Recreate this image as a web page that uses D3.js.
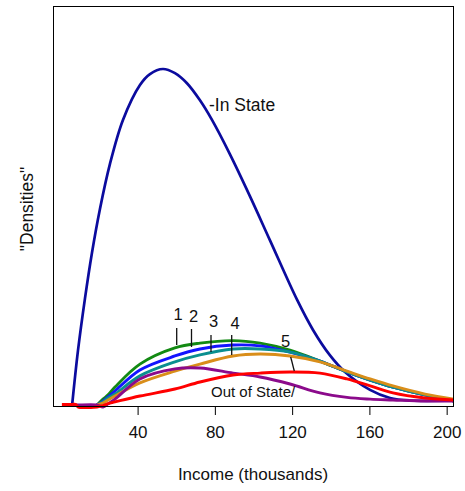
<!DOCTYPE html>
<html>
<head>
<meta charset="utf-8">
<script src="https://cdn.jsdelivr.net/npm/d3@7"></script>
<style>
  html, body { margin: 0; padding: 0; background: #fff; }
  svg { display: block; }
  text { font-family: "Liberation Sans", Arial, Helvetica, sans-serif; fill: #111; }
</style>
</head>
<body>
<svg id="chart" width="465" height="491"></svg>
<script>
// ---- Data (income in thousands, density in arbitrary units) ----
const xTicks = [40, 80, 120, 160, 200];

const inStateIncome  = [6.11, 9.11, 12.74, 16.36, 20.51, 25.69, 32.42, 41.22, 46.4, 53.13, 59.34, 65.56, 72.29, 78.51, 87.83, 98.19, 108.54, 122.53, 130.82, 139.62, 147.38, 160.33, 170.69, 181.05, 203.8];
const inStateDensity = [0, 1.93, 3.80, 5.43, 7.0, 8.61, 10.18, 11.43, 11.82, 12.0, 11.85, 11.49, 10.88, 10.18, 8.95, 7.45, 5.88, 3.76, 2.68, 1.77, 1.18, 0.54, 0.25, 0.16, 0.16];

const incomeGrid = [0.8, 6.0, 8.1, 9.1, 19.0, 22.1, 24.7, 28.3, 41.2, 59.3, 72.3, 89.4, 103.4, 118.9, 134.4, 148.4, 160.4, 172.2, 188.8, 203.8];

const group1Density  = [null, null, null, null, 0, 0.21, 0.36, 0.64, 1.46, 2.04, 2.21, 2.30, 2.21, 1.96, 1.57, 1.18, 0.89, 0.64, 0.36, 0.14];
const group2Density  = [null, null, null, null, 0, 0.14, 0.29, 0.50, 1.25, 1.75, 2.00, 2.14, 2.11, 1.89, 1.57, 1.18, 0.89, 0.64, 0.36, 0.14];
const group3Density  = [null, null, null, null, 0, 0.11, 0.25, 0.39, 1.04, 1.54, 1.79, 2.00, 2.00, 1.89, 1.57, 1.18, 0.89, 0.64, 0.36, 0.14];
const group45Density = [null, null, null, null, 0, 0.07, 0.18, 0.32, 0.79, 1.21, 1.46, 1.75, 1.82, 1.75, 1.54, 1.21, 0.93, 0.68, 0.39, 0.21];
const otherDensity   = [null, 0, 0, 0, 0, -0.07, 0.04, 0.21, 0.93, 1.29, 1.32, 1.14, 1.00, 0.75, 0.43, 0.27, 0.21, 0.18, 0.14, 0.14];
const outStateDensity= [0.02, 0.02, 0.02, -0.07, -0.07, -0.02, 0.05, 0.11, 0.32, 0.57, 0.82, 1.07, 1.14, 1.18, 1.14, 0.93, 0.68, 0.43, 0.25, 0.18];

const seriesNames  = ["In State", "1", "2", "3", "4/5", "other", "Out of State"];
const seriesColors = ["#0b0b9e", "#138a13", "#1414ff", "#0a8f8f", "#d98e1a", "#8b0a8b", "#ff0000"];

// ---- Layout ----
const svg = d3.select("#chart");
const plot = { left: 53, right: 454, top: 6, bottom: 406 };

const x = d3.scaleLinear().domain([-3.8, 203.8]).range([plot.left, plot.right]);
const y = d3.scaleLinear().domain([-0.036, 14.25]).range([plot.bottom, plot.top]);

svg.append("defs").append("clipPath").attr("id", "clip")
  .append("rect")
  .attr("x", plot.left).attr("y", plot.top)
  .attr("width", plot.right - plot.left).attr("height", plot.bottom - plot.top + 3);

const line = d3.line()
  .defined(d => d[1] !== null)
  .x(d => x(d[0])).y(d => y(d[1]))
  .curve(d3.curveCatmullRom.alpha(0.5));

const series = [
  d3.zip(inStateIncome, inStateDensity),
  d3.zip(incomeGrid, group1Density),
  d3.zip(incomeGrid, group2Density),
  d3.zip(incomeGrid, group3Density),
  d3.zip(incomeGrid, group45Density),
  d3.zip(incomeGrid, otherDensity),
  d3.zip(incomeGrid, outStateDensity)
];

const g = svg.append("g").attr("clip-path", "url(#clip)");
series.forEach((s, i) => {
  g.append("path")
    .datum(s)
    .attr("d", line)
    .attr("fill", "none")
    .attr("stroke", seriesColors[i])
    .attr("stroke-width", i === 0 ? 2.7 : 2.9)
    .attr("stroke-linejoin", "round")
    .attr("stroke-linecap", "butt");
});

// ---- Box ----
svg.append("rect")
  .attr("x", plot.left + 0.5).attr("y", plot.top + 0.5)
  .attr("width", plot.right - plot.left - 1).attr("height", plot.bottom - plot.top)
  .attr("fill", "none").attr("stroke", "#000").attr("stroke-width", 1);

// ---- X axis ----
const xAxis = d3.axisBottom(x).tickValues(xTicks).tickSize(9).tickPadding(6).tickSizeOuter(0);
const ax = svg.append("g").attr("transform", `translate(0,${plot.bottom})`).call(xAxis);
ax.select(".domain").remove();
ax.selectAll(".tick line").attr("stroke", "#000").attr("stroke-width", 1);
ax.selectAll(".tick text")
  .attr("font-size", "17px")
  .attr("font-family", "'Liberation Sans', Arial, Helvetica, sans-serif")
  .attr("fill", "#111")
  .attr("dy", null)
  .attr("y", 31.5);

// ---- Axis titles ----
svg.append("text")
  .attr("x", 253).attr("y", 480)
  .attr("text-anchor", "middle")
  .attr("font-size", "17px")
  .text("Income (thousands)");

svg.append("text")
  .attr("transform", "translate(33,209) rotate(-90)")
  .attr("text-anchor", "middle")
  .attr("font-size", "17.5px")
  .text("\"Densities\"");

// ---- Annotations ----
svg.append("text").attr("x", 209).attr("y", 110.5).attr("font-size", "17.5px").text("-In State");
svg.append("text").attr("x", 211).attr("y", 397).attr("font-size", "15px").text("Out of State/");

const numLabels = [
  { t: "1", x: 178, y: 320 },
  { t: "2", x: 193.5, y: 321.5 },
  { t: "3", x: 213.5, y: 327 },
  { t: "4", x: 235, y: 329 },
  { t: "5", x: 285.5, y: 346.5 }
];
numLabels.forEach(d => {
  svg.append("text").attr("x", d.x).attr("y", d.y)
    .attr("text-anchor", "middle").attr("font-size", "16.5px").text(d.t);
});

const pointers = [
  [176.7, 328, 176.7, 345],
  [191.5, 329, 191.5, 347],
  [211, 335, 211, 352],
  [231.7, 335, 231.7, 355],
  [290.7, 357, 294.3, 371]
];
pointers.forEach(p => {
  svg.append("line")
    .attr("x1", p[0]).attr("y1", p[1]).attr("x2", p[2]).attr("y2", p[3])
    .attr("stroke", "#111").attr("stroke-width", 1.3);
});
</script>
</body>
</html>
